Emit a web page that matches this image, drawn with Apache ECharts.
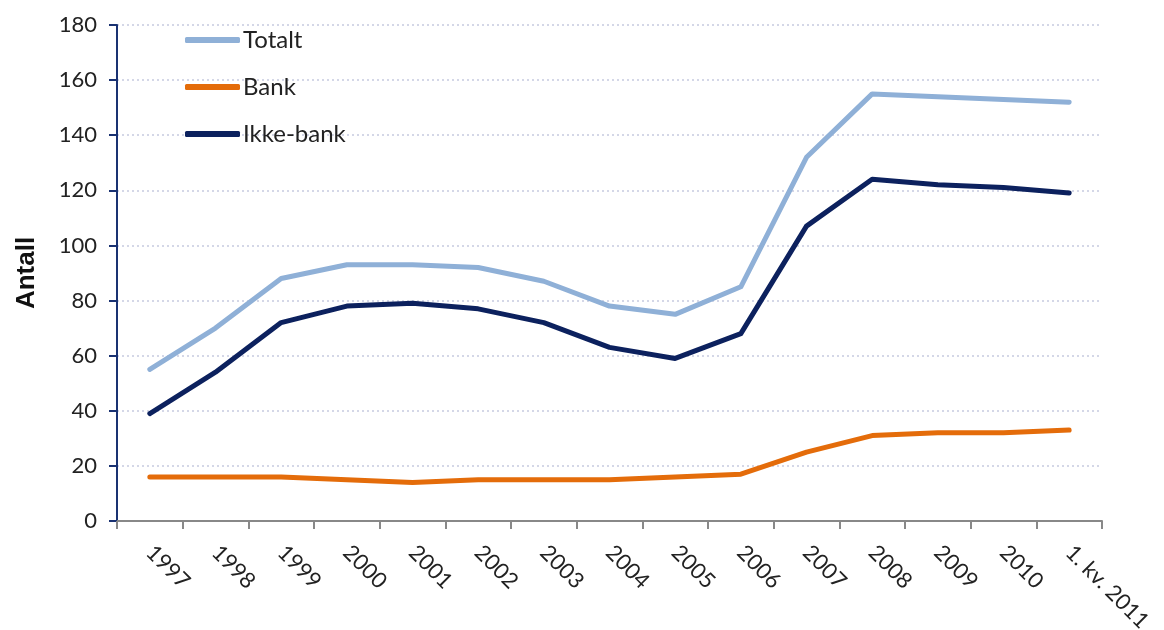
<!DOCTYPE html>
<html>
<head>
<meta charset="utf-8">
<script src="https://cdn.jsdelivr.net/npm/echarts@6/dist/echarts.min.js"></script>
<style>
  html, body { margin: 0; padding: 0; background: #fff; }
  #chart { width: 1164px; height: 630px; }
</style>
</head>
<body>
<div id="chart"></div>
<script>
// Periods on the category axis
const categories = ['1997', '1998', '1999', '2000', '2001', '2002', '2003', '2004',
  '2005', '2006', '2007', '2008', '2009', '2010', '1. kv. 2011'];

// Counts per period
const totalt = [55, 70, 88, 93, 93, 92, 87, 78, 75, 85, 132, 155, 154, 153, 152];
const bank = [16, 16, 16, 15, 14, 15, 15, 15, 16, 17, 25, 31, 32, 32, 33];
const ikkeBank = [39, 54, 72, 78, 79, 77, 72, 63, 59, 68, 107, 124, 122, 121, 119];

// Value axis range
const yMin = 0, yMax = 180, yStep = 20;

const fontFamily = 'Lato, "Open Sans", sans-serif';

const chart = echarts.init(document.getElementById('chart'));

function lineSeries(name, data, color) {
  return {
    name: name,
    type: 'line',
    data: data,
    symbol: 'none',
    smooth: false,
    lineStyle: { width: 5, color: color, cap: 'round', join: 'round' },
    itemStyle: { color: color },
    emphasis: { disabled: true }
  };
}

chart.setOption({
  animation: false,
  grid: { left: 117, right: 62, top: 25, bottom: 109, containLabel: false, outerBoundsMode: 'none' },
  legend: {
    orient: 'vertical',
    left: 180,
    top: 23,
    itemWidth: 55,
    itemHeight: 6,
    itemGap: 23,
    icon: 'roundRect',
    textStyle: { fontFamily: fontFamily, fontSize: 24, lineHeight: 24, color: '#222', padding: [0, 0, 0, -2] },
    data: ['Totalt', 'Bank', 'Ikke-bank']
  },
  xAxis: {
    type: 'category',
    data: categories,
    boundaryGap: true,
    axisLine: { lineStyle: { color: '#888', width: 2 } },
    axisTick: { show: true, length: 8, lineStyle: { color: '#888', width: 2 } },
    axisLabel: {
      rotate: -45,
      margin: 28,
      fontFamily: fontFamily,
      fontSize: 22,
      color: '#222',
      interval: 0
    },
    splitLine: { show: false }
  },
  yAxis: {
    type: 'value',
    min: yMin,
    max: yMax,
    interval: yStep,
    name: 'Antall',
    nameLocation: 'middle',
    nameGap: 77,
    nameRotate: 90,
    nameTextStyle: { fontFamily: 'Liberation Sans, Arial, sans-serif', fontSize: 26, fontWeight: 'bold', color: '#111' },
    axisLine: { show: true, lineStyle: { color: '#1a3272', width: 2 } },
    axisTick: { show: true, inside: false, length: 8, lineStyle: { color: '#1a3272', width: 2 } },
    axisLabel: { margin: 20, fontFamily: fontFamily, fontSize: 22, color: '#222' },
    splitLine: { show: true, lineStyle: { color: '#c6cadf', type: [2, 3], width: 1.5 } }
  },
  series: [
    lineSeries('Totalt', totalt, '#8fb0d7'),
    lineSeries('Bank', bank, '#e46c0a'),
    lineSeries('Ikke-bank', ikkeBank, '#0c215e')
  ]
});
</script>
</body>
</html>
